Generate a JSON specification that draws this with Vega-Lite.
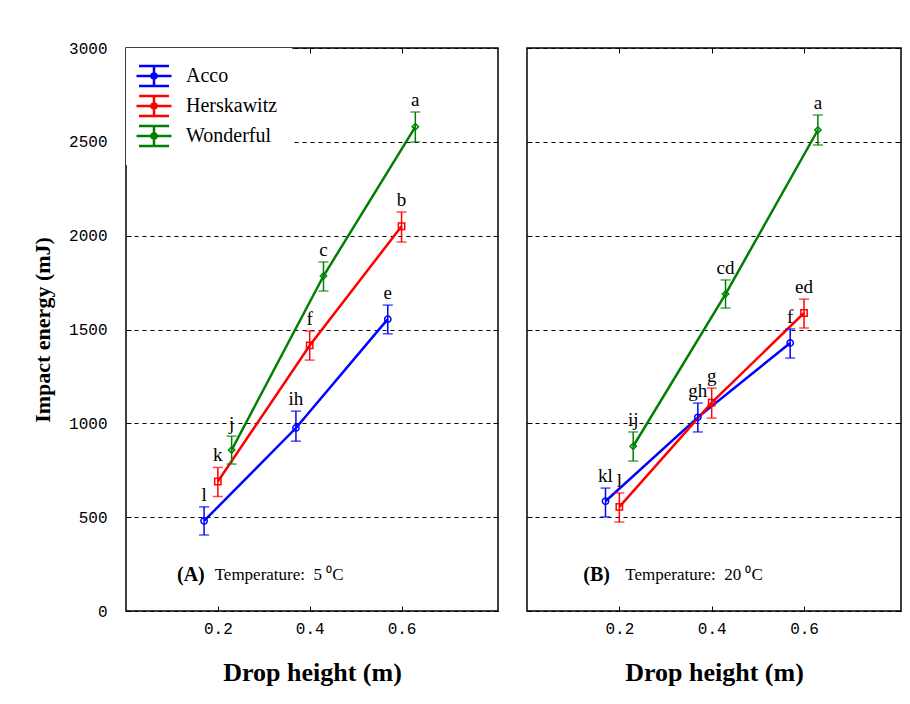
{
  "$schema": "https://vega.github.io/schema/vega-lite/v6.json",
  "background": "white",
  "padding": {"left": 30, "top": 39, "right": 5, "bottom": 5},
  "spacing": 25,
  "config": {
    "view": {"stroke": "black", "strokeWidth": 1.5},
    "font": "Liberation Serif",
    "axis": {"tickColor": "black", "labelColor": "black", "titleColor": "black", "domain": false, "tickWidth": 1}
  },
  "datasets": {
    "pts": [
      {"panel": "A", "variety": "Acco", "x": 0.17, "y": 480, "lo": 405, "hi": 555, "lab": "l"},
      {"panel": "A", "variety": "Acco", "x": 0.37, "y": 975, "lo": 905, "hi": 1065, "lab": "ih"},
      {"panel": "A", "variety": "Acco", "x": 0.57, "y": 1555, "lo": 1477, "hi": 1630, "lab": "e"},
      {"panel": "A", "variety": "Herskawitz", "x": 0.2, "y": 690, "lo": 610, "hi": 765, "lab": "k"},
      {"panel": "A", "variety": "Herskawitz", "x": 0.4, "y": 1415, "lo": 1337, "hi": 1492, "lab": "f"},
      {"panel": "A", "variety": "Herskawitz", "x": 0.6, "y": 2050, "lo": 1966, "hi": 2126, "lab": "b"},
      {"panel": "A", "variety": "Wonderful", "x": 0.23, "y": 858, "lo": 783, "hi": 932, "lab": "j"},
      {"panel": "A", "variety": "Wonderful", "x": 0.43, "y": 1785, "lo": 1705, "hi": 1860, "lab": "c"},
      {"panel": "A", "variety": "Wonderful", "x": 0.63, "y": 2580, "lo": 2499, "hi": 2659, "lab": "a"},
      {"panel": "B", "variety": "Acco", "x": 0.17, "y": 585, "lo": 501, "hi": 655, "lab": "kl"},
      {"panel": "B", "variety": "Acco", "x": 0.37, "y": 1032, "lo": 954, "hi": 1108, "lab": "gh"},
      {"panel": "B", "variety": "Acco", "x": 0.57, "y": 1428, "lo": 1348, "hi": 1503, "lab": "f"},
      {"panel": "B", "variety": "Herskawitz", "x": 0.2, "y": 555, "lo": 474, "hi": 629, "lab": "l"},
      {"panel": "B", "variety": "Herskawitz", "x": 0.4, "y": 1110, "lo": 1028, "hi": 1188, "lab": "g"},
      {"panel": "B", "variety": "Herskawitz", "x": 0.6, "y": 1588, "lo": 1508, "hi": 1662, "lab": "ed"},
      {"panel": "B", "variety": "Wonderful", "x": 0.23, "y": 878, "lo": 799, "hi": 954, "lab": "ij"},
      {"panel": "B", "variety": "Wonderful", "x": 0.43, "y": 1689, "lo": 1614, "hi": 1764, "lab": "cd"},
      {"panel": "B", "variety": "Wonderful", "x": 0.63, "y": 2563, "lo": 2483, "hi": 2643, "lab": "a"}
    ],
    "notes": [
      {"panel": "A", "x": 0.111, "y": 190, "t": "(A)", "bold": true},
      {"panel": "A", "x": 0.193, "y": 190, "t": "Temperature:\u00a0 5 ⁰C", "bold": false},
      {"panel": "B", "x": 0.122, "y": 190, "t": "(B)", "bold": true},
      {"panel": "B", "x": 0.213, "y": 190, "t": "Temperature:\u00a0 20 ⁰C", "bold": false}
    ]
  },
  "resolve": {"scale": {"x": "independent", "y": "independent", "color": "independent"}, "legend": {"color": "independent"}},
  "hconcat": [
    {
      "width": 372,
      "height": 563,
      "data": {"name": "pts"},
      "transform": [{"filter": "datum.panel === 'A'"}],
      "resolve": {"axis": {"x": "independent", "y": "independent"}},
      "layer": [
        {
          "mark": {"type": "line", "strokeWidth": 2.5},
          "encoding": {
            "x": {"field": "x", "type": "quantitative", "scale": {"domain": [0, 0.81], "nice": false, "zero": false},
              "axis": {"orient": "bottom", "values": [0.2, 0.4, 0.6], "format": ".1f", "tickSize": -5, "grid": false, "labelFont": "Liberation Mono", "labelFontSize": 16, "labelPadding": 14, "title": "Drop height (m)", "titleFont": "Liberation Serif", "titleFontSize": 26, "titleFontWeight": "bold", "titlePadding": 23}},
            "y": {"field": "y", "type": "quantitative", "scale": {"domain": [0, 3000], "nice": false},
              "axis": {"orient": "left", "values": [0, 500, 1000, 1500, 2000, 2500, 3000], "format": "d", "tickSize": -5, "grid": true, "gridDash": [4, 4], "gridColor": "black", "gridOpacity": 1, "gridWidth": 1, "labelFont": "Liberation Mono", "labelFontSize": 16, "labelPadding": 24, "title": "Impact energy (mJ)", "titleFont": "Liberation Serif", "titleFontSize": 22, "titleFontWeight": "bold", "titlePadding": 14}},
            "color": {"field": "variety", "type": "nominal", "scale": {"domain": ["Acco", "Herskawitz", "Wonderful"], "range": ["#0000ff", "#ff0000", "#008000"]},
              "legend": {"orient": "top-left", "offset": 0, "title": null, "fillColor": "white", "padding": 14, "rowPadding": 0, "symbolType": "M-1.4,0H1.4M0,-0.8V0.8M-1.2,-0.8H1.2M-1.2,0.8H1.2M-0.2,0A0.2,0.2 0 1,0 0.2,0A0.2,0.2 0 1,0 -0.2,0", "symbolSize": 625, "symbolStrokeWidth": 2.5, "symbolFillColor": "transparent", "symbolOpacity": 1, "labelFont": "Liberation Serif", "labelFontSize": 20, "labelColor": "black", "labelOffset": 18,
                "encode": {"symbols": {"update": {"opacity": {"value": 1}, "strokeOpacity": {"value": 1}}}}}}
          }
        },
        {
          "mark": {"type": "errorbar", "ticks": {"size": 10}, "thickness": 1.5},
          "encoding": {
            "x": {"field": "x", "type": "quantitative", "axis": {"orient": "top", "values": [0.2, 0.4, 0.6], "labels": false, "tickSize": -5, "grid": false, "title": null}},
            "y": {"field": "lo", "type": "quantitative", "axis": {"orient": "right", "values": [0, 500, 1000, 1500, 2000, 2500, 3000], "labels": false, "tickSize": -5, "grid": false, "title": null}},
            "y2": {"field": "hi"},
            "color": {"field": "variety", "type": "nominal"}
          }
        },
        {
          "transform": [{"filter": "datum.variety === 'Acco'"}],
          "mark": {"type": "point", "shape": "circle", "filled": false, "size": 40, "strokeWidth": 1.5, "opacity": 1},
          "encoding": {
            "x": {"field": "x", "type": "quantitative", "axis": null},
            "y": {"field": "y", "type": "quantitative", "axis": null},
            "color": {"field": "variety", "type": "nominal"}
          }
        },
        {
          "transform": [{"filter": "datum.variety === 'Herskawitz'"}],
          "mark": {"type": "point", "shape": "square", "filled": false, "size": 40, "strokeWidth": 1.5, "opacity": 1},
          "encoding": {
            "x": {"field": "x", "type": "quantitative", "axis": null},
            "y": {"field": "y", "type": "quantitative", "axis": null},
            "color": {"field": "variety", "type": "nominal"}
          }
        },
        {
          "transform": [{"filter": "datum.variety === 'Wonderful'"}],
          "mark": {"type": "point", "shape": "diamond", "filled": false, "size": 40, "strokeWidth": 1.5, "opacity": 1},
          "encoding": {
            "x": {"field": "x", "type": "quantitative", "axis": null},
            "y": {"field": "y", "type": "quantitative", "axis": null},
            "color": {"field": "variety", "type": "nominal"}
          }
        },
        {
          "mark": {"type": "text", "baseline": "alphabetic", "dy": -6, "fontSize": 19, "font": "Liberation Serif", "color": "black"},
          "encoding": {
            "x": {"field": "x", "type": "quantitative", "axis": null},
            "y": {"field": "hi", "type": "quantitative", "axis": null},
            "text": {"field": "lab"}
          }
        },
        {
          "data": {"name": "notes"},
          "transform": [{"filter": "datum.panel === 'A' && datum.bold"}],
          "mark": {"type": "text", "align": "left", "baseline": "middle", "fontSize": 20, "fontWeight": "bold", "font": "Liberation Serif", "color": "black"},
          "encoding": {
            "x": {"field": "x", "type": "quantitative", "axis": null},
            "y": {"field": "y", "type": "quantitative", "axis": null},
            "text": {"field": "t"}
          }
        },
        {
          "data": {"name": "notes"},
          "transform": [{"filter": "datum.panel === 'A' && !datum.bold"}],
          "mark": {"type": "text", "align": "left", "baseline": "middle", "fontSize": 17, "font": "Liberation Serif", "color": "black"},
          "encoding": {
            "x": {"field": "x", "type": "quantitative", "axis": null},
            "y": {"field": "y", "type": "quantitative", "axis": null},
            "text": {"field": "t"}
          }
        }
      ]
    },
    {
      "width": 374,
      "height": 563,
      "data": {"name": "pts"},
      "transform": [{"filter": "datum.panel === 'B'"}],
      "resolve": {"axis": {"x": "independent", "y": "independent"}},
      "layer": [
        {
          "mark": {"type": "line", "strokeWidth": 2.5},
          "encoding": {
            "x": {"field": "x", "type": "quantitative", "scale": {"domain": [0, 0.81], "nice": false, "zero": false},
              "axis": {"orient": "bottom", "values": [0.2, 0.4, 0.6], "format": ".1f", "tickSize": -5, "grid": false, "labelFont": "Liberation Mono", "labelFontSize": 16, "labelPadding": 14, "title": "Drop height (m)", "titleFont": "Liberation Serif", "titleFontSize": 26, "titleFontWeight": "bold", "titlePadding": 23}},
            "y": {"field": "y", "type": "quantitative", "scale": {"domain": [0, 3000], "nice": false},
              "axis": {"orient": "left", "values": [0, 500, 1000, 1500, 2000, 2500, 3000], "tickSize": -5, "grid": true, "gridDash": [4, 4], "gridColor": "black", "gridOpacity": 1, "gridWidth": 1, "labels": false, "title": null}},
            "color": {"field": "variety", "type": "nominal", "scale": {"domain": ["Acco", "Herskawitz", "Wonderful"], "range": ["#0000ff", "#ff0000", "#008000"]}, "legend": null}
          }
        },
        {
          "mark": {"type": "errorbar", "ticks": {"size": 10}, "thickness": 1.5},
          "encoding": {
            "x": {"field": "x", "type": "quantitative", "axis": {"orient": "top", "values": [0.2, 0.4, 0.6], "labels": false, "tickSize": -5, "grid": false, "title": null}},
            "y": {"field": "lo", "type": "quantitative", "axis": {"orient": "right", "values": [0, 500, 1000, 1500, 2000, 2500, 3000], "labels": false, "tickSize": -5, "grid": false, "title": null}},
            "y2": {"field": "hi"},
            "color": {"field": "variety", "type": "nominal"}
          }
        },
        {
          "transform": [{"filter": "datum.variety === 'Acco'"}],
          "mark": {"type": "point", "shape": "circle", "filled": false, "size": 40, "strokeWidth": 1.5, "opacity": 1},
          "encoding": {
            "x": {"field": "x", "type": "quantitative", "axis": null},
            "y": {"field": "y", "type": "quantitative", "axis": null},
            "color": {"field": "variety", "type": "nominal"}
          }
        },
        {
          "transform": [{"filter": "datum.variety === 'Herskawitz'"}],
          "mark": {"type": "point", "shape": "square", "filled": false, "size": 40, "strokeWidth": 1.5, "opacity": 1},
          "encoding": {
            "x": {"field": "x", "type": "quantitative", "axis": null},
            "y": {"field": "y", "type": "quantitative", "axis": null},
            "color": {"field": "variety", "type": "nominal"}
          }
        },
        {
          "transform": [{"filter": "datum.variety === 'Wonderful'"}],
          "mark": {"type": "point", "shape": "diamond", "filled": false, "size": 40, "strokeWidth": 1.5, "opacity": 1},
          "encoding": {
            "x": {"field": "x", "type": "quantitative", "axis": null},
            "y": {"field": "y", "type": "quantitative", "axis": null},
            "color": {"field": "variety", "type": "nominal"}
          }
        },
        {
          "mark": {"type": "text", "baseline": "alphabetic", "dy": -6, "fontSize": 19, "font": "Liberation Serif", "color": "black"},
          "encoding": {
            "x": {"field": "x", "type": "quantitative", "axis": null},
            "y": {"field": "hi", "type": "quantitative", "axis": null},
            "text": {"field": "lab"}
          }
        },
        {
          "data": {"name": "notes"},
          "transform": [{"filter": "datum.panel === 'B' && datum.bold"}],
          "mark": {"type": "text", "align": "left", "baseline": "middle", "fontSize": 20, "fontWeight": "bold", "font": "Liberation Serif", "color": "black"},
          "encoding": {
            "x": {"field": "x", "type": "quantitative", "axis": null},
            "y": {"field": "y", "type": "quantitative", "axis": null},
            "text": {"field": "t"}
          }
        },
        {
          "data": {"name": "notes"},
          "transform": [{"filter": "datum.panel === 'B' && !datum.bold"}],
          "mark": {"type": "text", "align": "left", "baseline": "middle", "fontSize": 17, "font": "Liberation Serif", "color": "black"},
          "encoding": {
            "x": {"field": "x", "type": "quantitative", "axis": null},
            "y": {"field": "y", "type": "quantitative", "axis": null},
            "text": {"field": "t"}
          }
        }
      ]
    }
  ]
}
